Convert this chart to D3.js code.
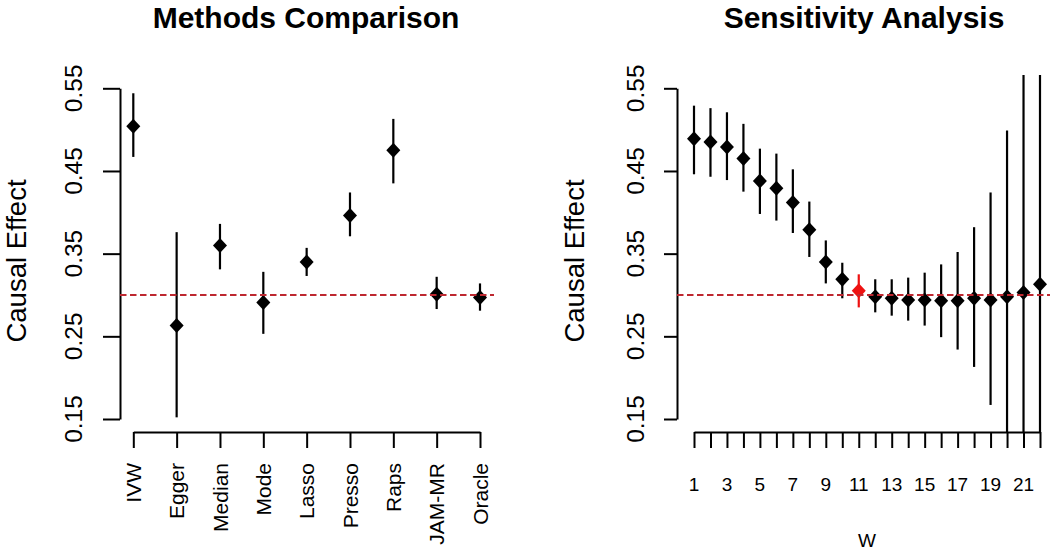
<!DOCTYPE html>
<html><head><meta charset="utf-8">
<script src="https://cdn.jsdelivr.net/npm/d3@7"></script>
<style>body{margin:0;background:#fff}svg{display:block}text{font-family:"Liberation Sans",Arial,sans-serif}</style>
</head><body>
<svg id="c" width="1050" height="552"></svg>
<script>
// ---- data ----
const methods = ["IVW","Egger","Median","Mode","Lasso","Presso","Raps","JAM-MR","Oracle"];
const methodEst = [0.504,0.263,0.360,0.291,0.340,0.396,0.475,0.301,0.297];
const methodLo  = [0.467,0.152,0.331,0.253,0.323,0.371,0.435,0.283,0.281];
const methodHi  = [0.544,0.376,0.386,0.328,0.357,0.424,0.513,0.322,0.314];

const wValues = [1,2,3,4,5,6,7,8,9,10,11,12,13,14,15,16,17,18,19,20,21,22];
const wEst = [0.489,0.485,0.479,0.465,0.438,0.429,0.412,0.379,0.340,0.319,0.305,0.298,0.296,0.294,0.294,0.293,0.293,0.296,0.294,0.298,0.303,0.313];
const wLo  = [0.446,0.443,0.439,0.425,0.398,0.390,0.375,0.346,0.314,0.296,0.285,0.279,0.275,0.269,0.263,0.249,0.234,0.213,0.167,0.097,0.010,-0.050];
const wHi  = [0.529,0.526,0.521,0.507,0.477,0.471,0.452,0.413,0.366,0.339,0.325,0.319,0.319,0.321,0.327,0.337,0.352,0.382,0.424,0.499,0.600,0.680];
const selectedW = 11;
const trueEffect = 0.30;
const yTicks = [0.15,0.25,0.35,0.45,0.55];
const wTickLabels = [1,3,5,7,9,11,13,15,17,19,21];

// ---- layout ----
const svg = d3.select("#c");
const y = d3.scaleLinear().domain([0.15,0.55]).range([419,88.3]);
const plotTop = 75, plotBottom = 432;
const darkRed = "#BE2830";

function diamond(g, cx, cy, color){
  g.append("path").attr("d",`M${cx},${cy-7.5}L${cx+7},${cy}L${cx},${cy+7.5}L${cx-7},${cy}Z`).attr("fill",color);
}

function panel(opts){
  const g = svg.append("g");
  const x = opts.x;
  const cid = "clip"+opts.id;
  svg.append("clipPath").attr("id",cid).append("rect")
    .attr("x",opts.plotLeft).attr("y",plotTop).attr("width",opts.plotRight-opts.plotLeft).attr("height",plotBottom-plotTop);
  const pg = g.append("g").attr("clip-path",`url(#${cid})`);
  // y axis
  const ya = g.append("g").attr("transform",`translate(${opts.axisX},0)`)
    .call(d3.axisLeft(y).tickValues(yTicks).tickSize(opts.yTickLen).tickSizeOuter(0).tickFormat(""));
  ya.selectAll("path,line").attr("stroke","#000").attr("stroke-width",2);
  yTicks.forEach(t=>{
    g.append("text").attr("transform",`translate(${opts.yLabX},${y(t)}) rotate(-90)`)
      .attr("text-anchor","middle").attr("font-size",24.5).text(t.toFixed(2));
  });
  // x axis
  const xa = g.append("g").attr("transform",`translate(0,${plotBottom})`)
    .call(d3.axisBottom(x).tickValues(opts.xVals).tickSize(16).tickSizeOuter(0).tickFormat(""));
  xa.selectAll("path,line").attr("stroke","#000").attr("stroke-width",2);
  // axis title
  g.append("text").attr("transform",`translate(${opts.yTitleX},261) rotate(-90)`)
    .attr("text-anchor","middle").attr("font-size",27.5).text("Causal Effect");
  // main title
  g.append("text").attr("x",opts.titleX).attr("y",28).attr("text-anchor","middle")
    .attr("font-size",30).attr("font-weight","bold").text(opts.title);
  // points
  opts.xVals.forEach((xv,i)=>{
    const col = opts.colorOf(xv);
    pg.append("line").attr("x1",x(xv)).attr("x2",x(xv)).attr("y1",y(opts.lo[i])).attr("y2",y(opts.hi[i]))
      .attr("stroke",col).attr("stroke-width",2.2);
    diamond(pg, x(xv), y(opts.est[i]), col);
  });
  // reference line
  g.append("line").attr("x1",opts.plotLeft).attr("x2",opts.plotRight).attr("y1",y(trueEffect)).attr("y2",y(trueEffect))
    .attr("stroke",darkRed).attr("stroke-width",2).attr("stroke-dasharray","6.5,3.5");
  return g;
}

// left panel
const xL = d3.scaleLinear().domain([1,9]).range([133.3,480]);
const gL = panel({id:"L", x:xL, xVals:d3.range(1,10), est:methodEst, lo:methodLo, hi:methodHi,
  plotLeft:120, plotRight:494, axisX:120, yTickLen:17, yLabX:82, yTitleX:26, titleX:306,
  title:"Methods Comparison", colorOf:()=>"#000"});
methods.forEach((m,i)=>{
  gL.append("text").attr("transform",`translate(${xL(i+1)},463) rotate(-90)`)
    .attr("dy","0.36em").attr("text-anchor","end").attr("font-size",21).text(m);
});

// right panel
const xR = d3.scaleLinear().domain([1,22]).range([694,1040]);
const gR = panel({id:"R", x:xR, xVals:wValues, est:wEst, lo:wLo, hi:wHi,
  plotLeft:677, plotRight:1050, axisX:677, yTickLen:13, yLabX:644, yTitleX:584, titleX:864,
  title:"Sensitivity Analysis", colorOf:(w)=> w===selectedW ? "#EE1111" : "#000"});
wTickLabels.forEach(w=>{
  gR.append("text").attr("x",xR(w)).attr("y",490.5).attr("text-anchor","middle").attr("font-size",19).text(w);
});
gR.append("text").attr("x",867).attr("y",547).attr("text-anchor","middle").attr("font-size",19).text("W");
</script>
</body></html>
